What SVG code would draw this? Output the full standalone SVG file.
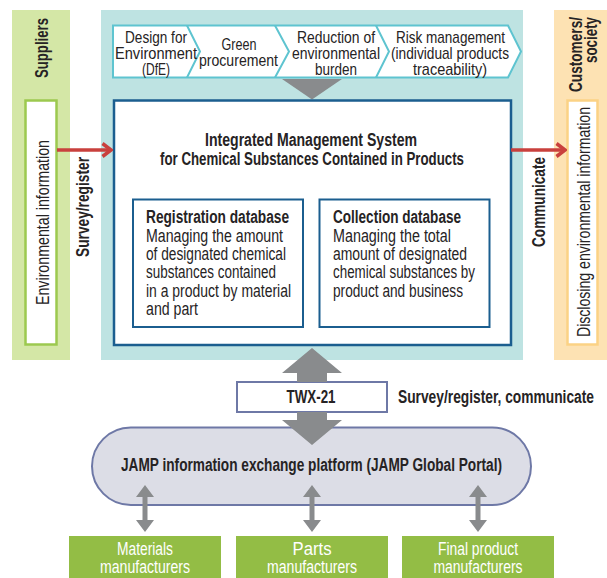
<svg xmlns="http://www.w3.org/2000/svg" width="607" height="578" viewBox="0 0 607 578">
<style>
text{font-family:"Liberation Sans Narrow","Liberation Sans",Arial,sans-serif;fill:#262324;}
.b{font-weight:bold;}
.r{font-size:17px;}
.m{font-size:17.5px;}
.c{text-anchor:middle;}
.w{fill:#ffffff;}
.red{stroke:#c9403d;stroke-width:3.5;fill:none;}
.gray{fill:#898b8d;}
.dbx{fill:#ffffff;stroke:#1b5e8f;stroke-width:2;}
.gbox{fill:#93bd45;}
</style>
<defs>
<marker id="ah" viewBox="0 0 12 16" refX="10" refY="8" markerWidth="12" markerHeight="16" markerUnits="userSpaceOnUse" orient="auto">
<path d="M1.5,1.5 L10,8 L1.5,14.5" fill="none" stroke="#c9403d" stroke-width="3.5"/>
</marker>
</defs>

<g id="suppliers">
<rect x="12" y="10" width="58" height="350" fill="#d4e7a6"/>
<text class="b m c" transform="translate(48,48) rotate(-90)" textLength="60" lengthAdjust="spacingAndGlyphs">Suppliers</text>
<rect x="25.5" y="100.5" width="31" height="244" fill="#ffffff" stroke="#9cc94f" stroke-width="2.5"/>
<text class="m c" transform="translate(49,222.5) rotate(-90)" textLength="165" lengthAdjust="spacingAndGlyphs">Environmental information</text>
</g>

<g id="survey-register-label">
<text class="b m c" transform="translate(89,207) rotate(-90)" textLength="100" lengthAdjust="spacingAndGlyphs">Survey/register</text>
</g>

<g id="company">
<rect x="101" y="10" width="422" height="350" fill="#bee3e2"/>
</g>

<g id="policies">
<path d="M113,25.5 H508 L521,51.5 L508,77.5 H113 Z" fill="#ffffff" stroke="#5ec4d0" stroke-width="2"/>
<path d="M187,25.5 L200,51.5 L187,77.5 M275,25.5 L289,51.5 L275,77.5 M376,25.5 L389,51.5 L376,77.5" fill="none" stroke="#5ec4d0" stroke-width="2"/>
<text class="r c" x="156" y="43" textLength="62" lengthAdjust="spacingAndGlyphs">Design for</text>
<text class="r c" x="156" y="59" textLength="82" lengthAdjust="spacingAndGlyphs">Environment</text>
<text class="r c" x="156" y="75" textLength="28" lengthAdjust="spacingAndGlyphs">(DfE)</text>
<text class="r c" x="239" y="49.5" textLength="35" lengthAdjust="spacingAndGlyphs">Green</text>
<text class="r c" x="238.5" y="66" textLength="79" lengthAdjust="spacingAndGlyphs">procurement</text>
<text class="r c" x="336" y="43" textLength="78" lengthAdjust="spacingAndGlyphs">Reduction of</text>
<text class="r c" x="336" y="59" textLength="88" lengthAdjust="spacingAndGlyphs">environmental</text>
<text class="r c" x="336" y="75" textLength="42" lengthAdjust="spacingAndGlyphs">burden</text>
<text class="r c" x="450.5" y="43" textLength="109" lengthAdjust="spacingAndGlyphs">Risk management</text>
<text class="r c" x="450" y="59" textLength="118" lengthAdjust="spacingAndGlyphs">(individual products</text>
<text class="r c" x="450" y="75" textLength="74" lengthAdjust="spacingAndGlyphs">traceability)</text>
<polygon class="gray" points="282,79 342,79 312,99.5"/>
</g>

<g id="ims">
<rect x="114" y="100.5" width="397" height="244.5" fill="#ffffff" stroke="#1b5e8f" stroke-width="2.5"/>
<text class="b m c" x="311" y="146" textLength="212" lengthAdjust="spacingAndGlyphs">Integrated Management System</text>
<text class="b m c" x="312" y="165" textLength="304" lengthAdjust="spacingAndGlyphs">for Chemical Substances Contained in Products</text>
</g>

<g id="registration-db">
<rect class="dbx" x="133" y="199.5" width="170" height="127.5"/>
<text class="b m" x="146" y="223" textLength="143" lengthAdjust="spacingAndGlyphs">Registration database</text>
<text class="m" x="146" y="241.5" textLength="137" lengthAdjust="spacingAndGlyphs">Managing the amount</text>
<text class="m" x="146" y="260" textLength="140" lengthAdjust="spacingAndGlyphs">of designated chemical</text>
<text class="m" x="146" y="278" textLength="130" lengthAdjust="spacingAndGlyphs">substances contained</text>
<text class="m" x="146" y="296.5" textLength="145" lengthAdjust="spacingAndGlyphs">in a product by material</text>
<text class="m" x="146" y="315" textLength="52" lengthAdjust="spacingAndGlyphs">and part</text>
</g>

<g id="collection-db">
<rect class="dbx" x="319.5" y="199.5" width="170" height="127.5"/>
<text class="b m" x="333" y="223" textLength="128" lengthAdjust="spacingAndGlyphs">Collection database</text>
<text class="m" x="333" y="241.5" textLength="118" lengthAdjust="spacingAndGlyphs">Managing the total</text>
<text class="m" x="333" y="260" textLength="134" lengthAdjust="spacingAndGlyphs">amount of designated</text>
<text class="m" x="333" y="278" textLength="142" lengthAdjust="spacingAndGlyphs">chemical substances by</text>
<text class="m" x="333" y="296.5" textLength="130" lengthAdjust="spacingAndGlyphs">product and business</text>
</g>

<g id="communicate-label">
<text class="b m c" transform="translate(545,202) rotate(-90)" textLength="90" lengthAdjust="spacingAndGlyphs">Communicate</text>
</g>

<g id="customers">
<rect x="554" y="10" width="53" height="350" fill="#fde2b3"/>
<text class="b m" transform="translate(582,17) rotate(-90)" style="text-anchor:end" textLength="75" lengthAdjust="spacingAndGlyphs">Customers/</text>
<text class="b m" transform="translate(597,17) rotate(-90)" style="text-anchor:end" textLength="46" lengthAdjust="spacingAndGlyphs">society</text>
<rect x="567.5" y="100.5" width="30" height="244" fill="#ffffff" stroke="#fbd285" stroke-width="2.5"/>
<text class="m c" transform="translate(590,222) rotate(-90)" textLength="230" lengthAdjust="spacingAndGlyphs">Disclosing environmental information</text>
</g>

<g id="twx21">
<rect x="237" y="382" width="150" height="30" fill="#ffffff" stroke="#6e78a6" stroke-width="2"/>
<text class="b m c" x="311" y="403" textLength="49" lengthAdjust="spacingAndGlyphs">TWX-21</text>
<text class="b m" x="594" y="403" style="text-anchor:end" textLength="196" lengthAdjust="spacingAndGlyphs">Survey/register, communicate</text>
</g>

<g id="jamp">
<rect x="92" y="427.5" width="439" height="77.5" rx="38.75" fill="#dcdde6" stroke="#6e78a6" stroke-width="2"/>
<text class="b m c" x="311.5" y="471" textLength="381" lengthAdjust="spacingAndGlyphs">JAMP information exchange platform (JAMP Global Portal)</text>
</g>

<g id="materials">
<rect class="gbox" x="69" y="536" width="152" height="42"/>
<text class="m c w" x="145" y="555" textLength="56" lengthAdjust="spacingAndGlyphs">Materials</text>
<text class="m c w" x="145" y="572.5" textLength="90" lengthAdjust="spacingAndGlyphs">manufacturers</text>
</g>
<g id="parts">
<rect class="gbox" x="236" y="536" width="152" height="42"/>
<text class="m c w" x="312" y="555" textLength="39" lengthAdjust="spacingAndGlyphs">Parts</text>
<text class="m c w" x="312" y="572.5" textLength="90" lengthAdjust="spacingAndGlyphs">manufacturers</text>
</g>
<g id="final-product">
<rect class="gbox" x="402" y="536" width="152" height="42"/>
<text class="m c w" x="478" y="555" textLength="80" lengthAdjust="spacingAndGlyphs">Final product</text>
<text class="m c w" x="478" y="572.5" textLength="89" lengthAdjust="spacingAndGlyphs">manufacturers</text>
</g>

<g id="connectors">
<line class="red" x1="57" y1="150" x2="111" y2="150" marker-end="url(#ah)"/>
<line class="red" x1="511" y1="150" x2="565" y2="150" marker-end="url(#ah)"/>
<polygon class="gray" points="312,348 342,373 327,373 327,382 297,382 297,373 282,373"/>
<polygon class="gray" points="297,412 327,412 327,420 342,420 312,445 282,420 297,420"/>
<polygon class="gray" points="145,485 154,497 147.5,497 147.5,520 154,520 145,532 136,520 142.5,520 142.5,497 136,497"/>
<polygon class="gray" points="312,485 321,497 314.5,497 314.5,520 321,520 312,532 303,520 309.5,520 309.5,497 303,497"/>
<polygon class="gray" points="478,485 487,497 480.5,497 480.5,520 487,520 478,532 469,520 475.5,520 475.5,497 469,497"/>
</g>
</svg>
